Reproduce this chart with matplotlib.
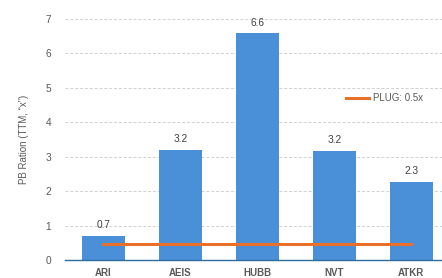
import matplotlib
matplotlib.use("Agg")
import matplotlib.pyplot as plt

categories = ["ARI", "AEIS", "HUBB", "NVT", "ATKR"]
pb_values = [0.70, 3.19, 6.58, 3.17, 2.27]
value_labels = ["0.7", "3.2", "6.6", "3.2", "2.3"]
plug_value = 0.47
plug_label = "PLUG: 0.5x"
yticks = [0, 1, 2, 3, 4, 5, 6, 7]

plt.rcParams['font.family'] = ['Liberation Sans', 'DejaVu Sans']

fig = plt.figure(figsize=(4.42, 2.78), dpi=100)
ax = fig.add_axes([65/442, 18/278, 377/442, 241/278])

x = list(range(len(categories)))
bar_color = "#4A90D9"
ax.bar(x, pb_values, width=0.56, color=bar_color, zorder=3)
for xi, v, lab in zip(x, pb_values, value_labels):
    ax.text(xi, v + 0.17, lab, ha="center", va="bottom", fontsize=7.3, color="#404040", zorder=4)

ax.plot([x[0], x[-1]], [plug_value, plug_value], color="#E8702A", lw=2.2, zorder=4, label=plug_label)

ax.set_xlim(-0.5, 4.4)
ax.set_ylim(0, 7)
ax.set_yticks(yticks)
ax.set_xticks(x)
ax.set_xticklabels(categories, fontsize=7, fontweight="bold", color="#595959")
ax.tick_params(axis="y", labelsize=7.3, labelcolor="#595959", length=0, pad=10)
ax.tick_params(axis="x", length=0, pad=6)
ax.grid(axis="y", linestyle=(0, (3, 2)), color="#D0D0D0", linewidth=0.7, zorder=0)
for s in ["top", "right", "left"]:
    ax.spines[s].set_visible(False)
ax.spines["bottom"].set_color("#2E6E9E")
ax.spines["bottom"].set_linewidth(1.0)
ax.spines["bottom"].set_zorder(5)

ax.set_ylabel("PB Ration (TTM, “x”)", fontsize=7, color="#595959", labelpad=12)

ax.legend(loc="center left", bbox_to_anchor=(0.745, 0.672), frameon=False, fontsize=7,
          labelcolor="#595959", handlelength=2.4, handletextpad=0.4,
          borderpad=0, borderaxespad=0)

fig.savefig("out.png", dpi=100)
